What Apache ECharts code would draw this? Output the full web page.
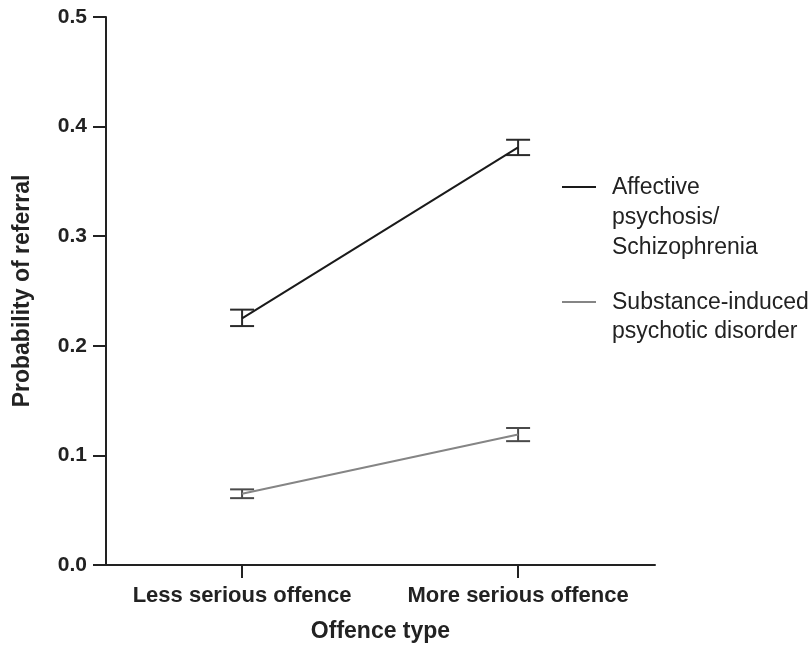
<!DOCTYPE html>
<html>
<head>
<meta charset="utf-8">
<script src="https://cdn.jsdelivr.net/npm/echarts@6/dist/echarts.min.js"></script>
<style>
  html, body { margin: 0; padding: 0; background: #fff; }
  #chart { width: 812px; height: 648px; }
</style>
</head>
<body>
<div id="chart"></div>
<script>
  const categories = ["Less serious offence", "More serious offence"];
  const seriesNames = ["Affective\npsychosis/\nSchizophrenia", "Substance-induced\npsychotic disorder"];
  const affective = [0.225, 0.381];
  const affectiveLow = [0.218, 0.374];
  const affectiveHigh = [0.233, 0.388];
  const substance = [0.065, 0.119];
  const substanceLow = [0.061, 0.113];
  const substanceHigh = [0.069, 0.125];
  const yTicks = [0, 0.1, 0.2, 0.3, 0.4, 0.5];

  const font = "Arial, 'Liberation Sans', sans-serif";
  const axisColor = "#222";

  const myChart = echarts.init(document.getElementById("chart"));

  // error bar drawing: vertical line + two caps
  const errorBar = (color) => (params, api) => {
    const x = api.value(0);
    const lo = api.coord([x, api.value(1)]);
    const hi = api.coord([x, api.value(2)]);
    const w = 12;
    const style = { stroke: color, lineWidth: 2 };
    return {
      type: "group",
      children: [
        { type: "line", shape: { x1: lo[0], y1: lo[1], x2: hi[0], y2: hi[1] }, style },
        { type: "line", shape: { x1: lo[0] - w, y1: lo[1], x2: lo[0] + w, y2: lo[1] }, style },
        { type: "line", shape: { x1: hi[0] - w, y1: hi[1], x2: hi[0] + w, y2: hi[1] }, style },
      ],
    };
  };

  const lineData = (vals) => vals.map((v, i) => [i, v]);
  const errData = (lo, hi) => lo.map((v, i) => [i, v, hi[i]]);

  myChart.setOption({
    animation: false,
    grid: { left: 106, right: 157, top: 17, bottom: 80 },
    xAxis: {
      type: "value",
      min: -0.493,
      max: 1.496,
      name: "Offence type",
      nameLocation: "middle",
      nameGap: 55,
      nameTextStyle: { fontFamily: font, fontWeight: "bold", fontSize: 23, color: axisColor },
      splitLine: { show: false },
      axisLine: { onZero: false, lineStyle: { color: axisColor, width: 2 } },
      axisTick: { show: true, customValues: [0, 1], length: 13, lineStyle: { color: axisColor, width: 2 } },
      axisLabel: {
        customValues: [0, 1],
        formatter: (v) => categories[Math.round(v)],
        fontFamily: font, fontWeight: "bold", fontSize: 22, color: axisColor, margin: 20,
      },
    },
    yAxis: {
      type: "value",
      min: 0,
      max: 0.5,
      interval: 0.1,
      name: "Probability of referral",
      nameLocation: "middle",
      nameGap: 72,
      nameTextStyle: { fontFamily: font, fontWeight: "bold", fontSize: 23, color: axisColor },
      splitLine: { show: false },
      axisLine: { show: true, onZero: false, lineStyle: { color: axisColor, width: 2 } },
      axisTick: { show: true, length: 13, lineStyle: { color: axisColor, width: 2 } },
      axisLabel: {
        formatter: (v) => yTicks.includes(Math.round(v * 10) / 10) ? v.toFixed(1) : "",
        fontFamily: font, fontWeight: "bold", fontSize: 21, color: axisColor, margin: 19,
      },
    },
    series: [
      {
        name: seriesNames[0],
        type: "line",
        data: lineData(affective),
        symbol: "none",
        lineStyle: { color: "#1a1a1a", width: 2 },
        z: 3,
      },
      {
        name: seriesNames[1],
        type: "line",
        data: lineData(substance),
        symbol: "none",
        lineStyle: { color: "#858585", width: 2 },
        z: 3,
      },
      {
        type: "custom",
        renderItem: errorBar("#2a2a2a"),
        data: errData(affectiveLow, affectiveHigh),
        encode: { x: 0, y: [1, 2] },
        z: 2,
      },
      {
        type: "custom",
        renderItem: errorBar("#4a4a4a"),
        data: errData(substanceLow, substanceHigh),
        encode: { x: 0, y: [1, 2] },
        z: 2,
      },
    ],
    graphic: [
      { type: "line", shape: { x1: 562, y1: 187, x2: 596, y2: 187 }, style: { stroke: "#1a1a1a", lineWidth: 2 } },
      {
        type: "text", left: 612, top: 173,
        style: { text: seriesNames[0], font: "23px " + font, fill: axisColor, lineHeight: 30 },
      },
      { type: "line", shape: { x1: 562, y1: 302, x2: 596, y2: 302 }, style: { stroke: "#858585", lineWidth: 2 } },
      {
        type: "text", left: 612, top: 288,
        style: { text: seriesNames[1], font: "23px " + font, fill: axisColor, lineHeight: 29 },
      },
    ],
  });
</script>
</body>
</html>
